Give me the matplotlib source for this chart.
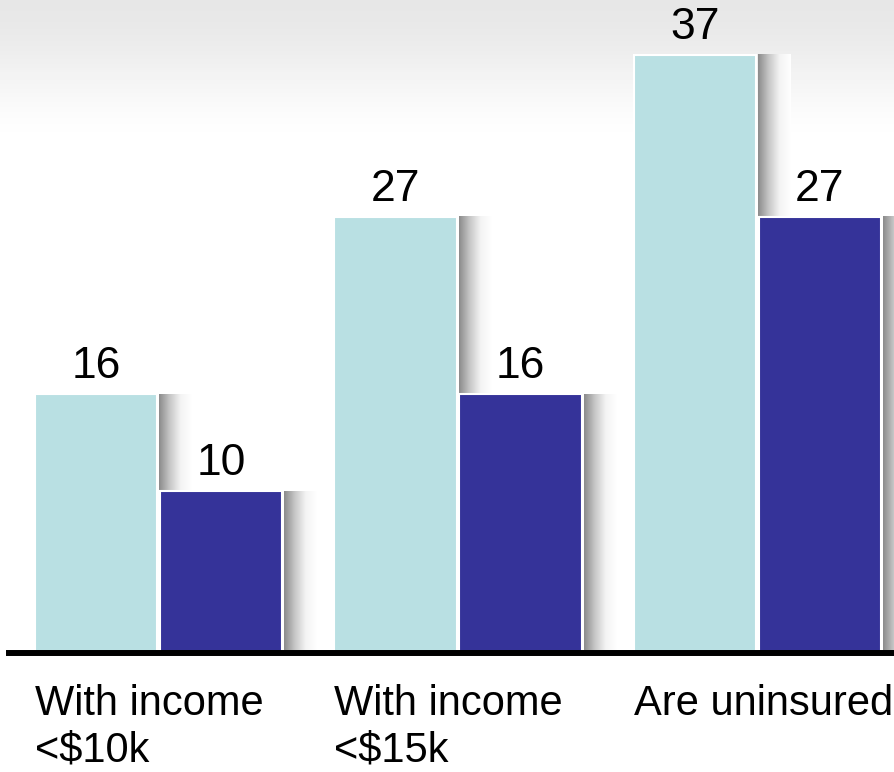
import numpy as np
import matplotlib.pyplot as plt
from matplotlib.colors import LinearSegmentedColormap

plt.rcParams['font.family'] = ['Liberation Sans', 'DejaVu Sans']

# percentages per group
groups = ['With income\n<$10k', 'With income\n<$15k', 'Are uninsured']
series_a = [16, 27, 37]
series_b = [10, 16, 27]

light = '#B9E0E3'
dark = '#353399'

W, H = 894, 772
fig = plt.figure(figsize=(W / 100, H / 100), dpi=100)

# soft grey fade at the top of the slide
bg = fig.add_axes([0, 0, 1, 1], zorder=-5)
rows = np.arange(H)
t = np.clip(rows / 150.0, 0, 1)
grad = 0.905 + 0.095 * (t * t * (3 - 2 * t))
bg.imshow(np.repeat(grad[:, None], 2, axis=1), cmap='gray', vmin=0, vmax=1,
          aspect='auto', extent=(0, 1, 0, 1), origin='upper')
bg.axis('off')

ax = fig.add_axes([9 / W, 119 / H, 885 / W, 653 / H])
ax.patch.set_alpha(0)

x = np.arange(len(groups))
bw = 0.41
off = 0.2087

shade = LinearSegmentedColormap.from_list('shade', ['#8c8c8c', '#c8c8c8', '#f4f4f4', '#ffffff'])
sw = 0.108
ramp = np.linspace(0, 1, 64)[None, :]

for xs, vals, col in [(x - off, series_a, light), (x + off, series_b, dark)]:
    ax.bar(xs, vals, width=bw, color=col, edgecolor='white', linewidth=1.5, zorder=3)
    for xi, v in zip(xs, vals):
        left = xi + bw / 2 + 0.006
        ax.imshow(ramp, cmap=shade, aspect='auto', extent=(left, left + sw, 0, v),
                  zorder=1)
        ax.annotate(str(v), (xi, v), xytext=(0, 5), textcoords='offset points',
                    ha='center', va='bottom', fontsize=32, zorder=5)

for xi, g in zip(x, groups):
    ax.annotate(g, (xi - off - bw / 2, 0), xytext=(0, -22), textcoords='offset points',
                ha='left', va='top', fontsize=30, linespacing=1.22,
                annotation_clip=False)

ax.set_xlim(-0.499, 2.456)
ax.set_ylim(0, 40.4)
for s in ['top', 'right', 'left']:
    ax.spines[s].set_visible(False)
ax.spines['bottom'].set_linewidth(4.3)
ax.spines['bottom'].set_zorder(6)
ax.set_xticks([])
ax.set_yticks([])

fig.savefig('out.png', dpi=100)
